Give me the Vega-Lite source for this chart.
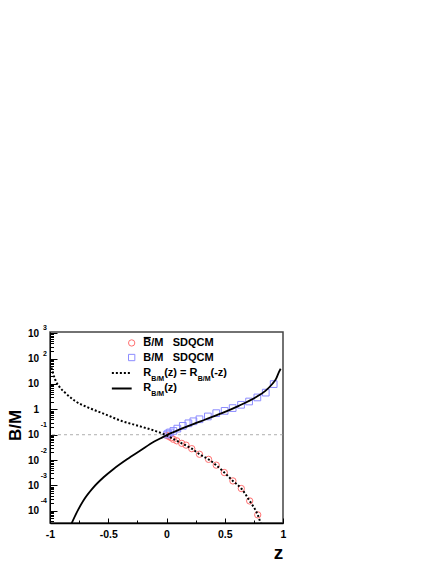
{
  "$schema": "https://vega.github.io/schema/vega-lite/v6.json",
  "width": 233,
  "height": 191,
  "autosize": {"type": "none"},
  "padding": {"left": 50, "top": 332, "right": 153, "bottom": 41},
  "background": "white",
  "datasets": {
    "solid": [
      {"z": -0.825, "v": 2.5e-5}, {"z": -0.77, "v": 8.71e-5}, {"z": -0.713, "v": 2.55e-4},
      {"z": -0.627, "v": 8.38e-4}, {"z": -0.54, "v": 0.0021}, {"z": -0.454, "v": 0.00447},
      {"z": -0.339, "v": 0.01072}, {"z": -0.224, "v": 0.0237}, {"z": -0.109, "v": 0.0525},
      {"z": -0.05, "v": 0.0724}, {"z": 0, "v": 0.0955}, {"z": 0.047, "v": 0.1202},
      {"z": 0.19, "v": 0.2239}, {"z": 0.333, "v": 0.398}, {"z": 0.476, "v": 0.7079},
      {"z": 0.62, "v": 1.38}, {"z": 0.763, "v": 2.951}, {"z": 0.849, "v": 5.37},
      {"z": 0.906, "v": 9.772}, {"z": 0.94, "v": 15.85}, {"z": 0.963, "v": 28.18},
      {"z": 0.98, "v": 39.81}
    ],
    "dashed": [
      {"z": -0.988, "v": 44.7}, {"z": -0.98, "v": 33.1}, {"z": -0.957, "v": 15.49},
      {"z": -0.914, "v": 7.244}, {"z": -0.871, "v": 4.571}, {"z": -0.785, "v": 2.138},
      {"z": -0.671, "v": 1.175}, {"z": -0.528, "v": 0.6457}, {"z": -0.384, "v": 0.3467},
      {"z": -0.241, "v": 0.2239}, {"z": -0.097, "v": 0.1413}, {"z": 0, "v": 0.0955},
      {"z": 0.06, "v": 0.0676}, {"z": 0.131, "v": 0.0457}, {"z": 0.217, "v": 0.0282},
      {"z": 0.283, "v": 0.017}, {"z": 0.361, "v": 0.01072}, {"z": 0.427, "v": 0.00631},
      {"z": 0.496, "v": 0.00324}, {"z": 0.57, "v": 0.00151}, {"z": 0.642, "v": 7.59e-4},
      {"z": 0.714, "v": 2.45e-4}, {"z": 0.783, "v": 6.92e-5}, {"z": 0.81, "v": 3.1e-5}
    ],
    "circles": [
      {"z": 0.005, "v": 0.093}, {"z": 0.02, "v": 0.085}, {"z": 0.04, "v": 0.076},
      {"z": 0.059, "v": 0.0661}, {"z": 0.088, "v": 0.0575}, {"z": 0.131, "v": 0.0457},
      {"z": 0.168, "v": 0.0389}, {"z": 0.217, "v": 0.0282}, {"z": 0.283, "v": 0.017},
      {"z": 0.361, "v": 0.0107}, {"z": 0.427, "v": 0.00631}, {"z": 0.496, "v": 0.00324},
      {"z": 0.57, "v": 0.00151}, {"z": 0.642, "v": 7.59e-4}, {"z": 0.714, "v": 2.45e-4},
      {"z": 0.783, "v": 6.92e-5}
    ],
    "squares": [
      {"z": 0.005, "v": 0.102}, {"z": 0.015, "v": 0.112}, {"z": 0.03, "v": 0.123},
      {"z": 0.059, "v": 0.141}, {"z": 0.093, "v": 0.174}, {"z": 0.14, "v": 0.224},
      {"z": 0.188, "v": 0.282}, {"z": 0.231, "v": 0.339}, {"z": 0.283, "v": 0.407},
      {"z": 0.355, "v": 0.525}, {"z": 0.427, "v": 0.708}, {"z": 0.499, "v": 0.871},
      {"z": 0.568, "v": 1.122}, {"z": 0.64, "v": 1.514}, {"z": 0.709, "v": 2.042},
      {"z": 0.78, "v": 2.951}, {"z": 0.852, "v": 4.571}, {"z": 0.92, "v": 9.9}
    ],
    "legendSymbols": [
      {"z": -0.299, "v": 415, "kind": "circle"},
      {"z": -0.299, "v": 110.7, "kind": "square"}
    ],
    "legendLines": [
      {"z": -0.469, "v": 27.2, "kind": "dashed"}, {"z": -0.299, "v": 27.2, "kind": "dashed"},
      {"z": -0.469, "v": 6.7, "kind": "solid"}, {"z": -0.299, "v": 6.7, "kind": "solid"}
    ],
    "legendBar": [
      {"z": -0.196, "z2": -0.134, "v": 680}
    ],
    "legendText": [
      {"z": -0.199, "v": 415, "t": "B/M\u00a0\u00a0\u00a0SDQCM"},
      {"z": -0.199, "v": 110.7, "t": "B/M\u00a0\u00a0\u00a0SDQCM"},
      {"z": -0.199, "v": 27.2, "t": "R"},
      {"z": -0.02, "v": 27.2, "t": "(z) = R"},
      {"z": 0.378, "v": 27.2, "t": "(-z)"},
      {"z": -0.199, "v": 6.7, "t": "R"},
      {"z": -0.02, "v": 6.7, "t": "(z)"}
    ],
    "legendSub": [
      {"z": -0.13, "v": 27.2, "t": "B/M"},
      {"z": 0.268, "v": 27.2, "t": "B/M"},
      {"z": -0.13, "v": 6.7, "t": "B/M"}
    ]
  },
  "layer": [
    {
      "data": {"values": [{}]},
      "mark": {"type": "rule", "color": "#999999", "strokeDash": [3, 3], "strokeWidth": 0.8},
      "encoding": {
        "y": {"datum": 0.1, "type": "quantitative", "scale": {"type": "log", "domain": [3.31e-5, 1122]}, "axis": null}
      }
    },
    {
      "data": {"name": "circles"},
      "mark": {"type": "point", "shape": "circle", "filled": false, "stroke": "#ff7070", "strokeWidth": 1, "size": 40, "opacity": 1, "clip": true},
      "encoding": {
        "x": {
          "field": "z", "type": "quantitative",
          "scale": {"domain": [-1, 1], "nice": false, "zero": false},
          "axis": {
            "orient": "bottom", "values": [-1, -0.5, 0, 0.5, 1], "ticks": false,
            "domain": true, "domainColor": "black", "domainWidth": 1.5,
            "labelExpr": "datum.value < 0 ? '-' + format(-datum.value, '') : format(datum.value, '')",
            "labelFontSize": 10.5, "labelFontWeight": "bold", "labelPadding": 6.5,
            "labelFlush": false, "labelOverlap": false,
            "title": "z", "titleFontSize": 19, "titleFontWeight": "bold",
            "titleX": 228, "titleY": 29, "titleAlign": "center", "titleBaseline": "middle"
          }
        },
        "y": {
          "field": "v", "type": "quantitative",
          "scale": {"type": "log", "domain": [3.31e-5, 1122]},
          "axis": {
            "orient": "left", "values": [0.0001, 0.001, 0.01, 0.1, 1, 10, 100, 1000],
            "ticks": false, "domain": true, "domainColor": "black", "domainWidth": 1,
            "labelExpr": "datum.value == 1 ? '1' : '10'",
            "labelFontSize": 10, "labelFontWeight": "bold", "labelPadding": 11.5,
            "labelFlush": false, "labelOverlap": false,
            "title": "B/M", "titleFontSize": 17, "titleFontWeight": "bold", "titleAngle": -90,
            "titleX": -35, "titleY": 93, "titleAlign": "center", "titleBaseline": "middle"
          }
        }
      }
    },
    {
      "data": {"name": "squares"},
      "mark": {"type": "point", "shape": "square", "filled": false, "stroke": "#8c8cff", "strokeWidth": 1, "size": 45, "opacity": 1, "clip": true},
      "encoding": {
        "x": {
          "field": "z", "type": "quantitative",
          "scale": {"domain": [-1, 1], "nice": false, "zero": false},
          "axis": {"orient": "bottom", "values": [-1, -0.5, 0, 0.5, 1], "labels": false, "domain": false, "tickSize": -5, "tickColor": "black", "title": null}
        },
        "y": {
          "field": "v", "type": "quantitative",
          "scale": {"type": "log", "domain": [3.31e-5, 1122]},
          "axis": {
            "orient": "left", "values": [0.0001, 0.001, 0.01, 0.1, 100, 1000],
            "ticks": false, "domain": false,
            "labelExpr": "datum.value == 1000 ? '3' : datum.value == 100 ? '2' : datum.value == 0.1 ? '-1' : datum.value == 0.01 ? '-2' : datum.value == 0.001 ? '-3' : '-4'",
            "labelFontSize": 7, "labelFontWeight": "bold", "labelPadding": 3.5,
            "labelOffset": {"condition": {"test": "datum.value < 1", "value": -10}, "value": -5.5},
            "labelFlush": false, "labelOverlap": false, "title": null
          }
        }
      }
    },
    {
      "data": {"name": "solid"},
      "mark": {"type": "line", "color": "black", "strokeWidth": 1.8, "interpolate": "monotone", "clip": true},
      "encoding": {
        "x": {
          "field": "z", "type": "quantitative",
          "scale": {"domain": [-1, 1], "nice": false, "zero": false},
          "axis": {"orient": "bottom", "values": [-0.75, -0.25, 0.25, 0.75], "labels": false, "domain": false, "tickSize": -3, "tickColor": "black", "title": null}
        },
        "y": {
          "field": "v", "type": "quantitative",
          "scale": {"type": "log", "domain": [3.31e-5, 1122]},
          "axis": {"orient": "left", "values": [0.0001, 0.001, 0.01, 0.1, 1, 10, 100, 1000], "labels": false, "domain": false, "tickSize": -7, "tickColor": "black", "title": null}
        }
      }
    },
    {
      "data": {"name": "dashed"},
      "mark": {"type": "line", "color": "black", "strokeWidth": 2, "strokeDash": [2, 2], "interpolate": "monotone", "clip": true},
      "encoding": {
        "x": {"field": "z", "type": "quantitative", "scale": {"domain": [-1, 1], "nice": false, "zero": false}, "axis": null},
        "y": {
          "field": "v", "type": "quantitative",
          "scale": {"type": "log", "domain": [3.31e-5, 1122]},
          "axis": {
            "orient": "left",
            "values": [4e-5, 5e-5, 6e-5, 7e-5, 8e-5, 9e-5, 0.0002, 0.0003, 0.0004, 0.0005, 0.0006, 0.0007, 0.0008, 0.0009, 0.002, 0.003, 0.004, 0.005, 0.006, 0.007, 0.008, 0.009, 0.02, 0.03, 0.04, 0.05, 0.06, 0.07, 0.08, 0.09, 0.2, 0.3, 0.4, 0.5, 0.6, 0.7, 0.8, 0.9, 2, 3, 4, 5, 6, 7, 8, 9, 20, 30, 40, 50, 60, 70, 80, 90, 200, 300, 400, 500, 600, 700, 800, 900],
            "labels": false, "domain": false, "tickSize": -3.5, "tickColor": "black", "title": null
          }
        }
      }
    },
    {
      "data": {"name": "legendSymbols"},
      "mark": {"type": "point", "filled": false, "strokeWidth": 1, "size": 40, "opacity": 1},
      "encoding": {
        "x": {"field": "z", "type": "quantitative", "scale": {"domain": [-1, 1], "nice": false, "zero": false}, "axis": null},
        "y": {"field": "v", "type": "quantitative", "scale": {"type": "log", "domain": [3.31e-5, 1122]}, "axis": null},
        "shape": {"field": "kind", "type": "nominal", "scale": {"domain": ["circle", "square"], "range": ["circle", "square"]}, "legend": null},
        "stroke": {"field": "kind", "type": "nominal", "scale": {"domain": ["circle", "square"], "range": ["#ff7070", "#8c8cff"]}, "legend": null}
      }
    },
    {
      "data": {"name": "legendLines"},
      "mark": {"type": "line", "color": "black", "strokeWidth": 2},
      "encoding": {
        "x": {"field": "z", "type": "quantitative", "scale": {"domain": [-1, 1], "nice": false, "zero": false}, "axis": null},
        "y": {"field": "v", "type": "quantitative", "scale": {"type": "log", "domain": [3.31e-5, 1122]}, "axis": null},
        "strokeDash": {"field": "kind", "type": "nominal", "scale": {"domain": ["dashed", "solid"], "range": [[2, 2], [1, 0]]}, "legend": null},
        "detail": {"field": "kind", "type": "nominal"}
      }
    },
    {
      "data": {"name": "legendBar"},
      "mark": {"type": "rule", "color": "black", "strokeWidth": 1.2},
      "encoding": {
        "x": {"field": "z", "type": "quantitative", "scale": {"domain": [-1, 1], "nice": false, "zero": false}, "axis": null},
        "x2": {"field": "z2"},
        "y": {"field": "v", "type": "quantitative", "scale": {"type": "log", "domain": [3.31e-5, 1122]}, "axis": null}
      }
    },
    {
      "data": {"name": "legendText"},
      "mark": {"type": "text", "align": "left", "baseline": "middle", "font": "Liberation Sans", "fontWeight": "bold", "fontSize": 11, "color": "black"},
      "encoding": {
        "x": {"field": "z", "type": "quantitative", "scale": {"domain": [-1, 1], "nice": false, "zero": false}, "axis": null},
        "y": {"field": "v", "type": "quantitative", "scale": {"type": "log", "domain": [3.31e-5, 1122]}, "axis": null},
        "text": {"field": "t", "type": "nominal"}
      }
    },
    {
      "data": {"name": "legendSub"},
      "mark": {"type": "text", "align": "left", "baseline": "middle", "font": "Liberation Sans", "fontWeight": "bold", "fontSize": 7, "dy": 6, "color": "black"},
      "encoding": {
        "x": {"field": "z", "type": "quantitative", "scale": {"domain": [-1, 1], "nice": false, "zero": false}, "axis": null},
        "y": {"field": "v", "type": "quantitative", "scale": {"type": "log", "domain": [3.31e-5, 1122]}, "axis": null},
        "text": {"field": "t", "type": "nominal"}
      }
    }
  ],
  "resolve": {"axis": {"x": "independent", "y": "independent"}},
  "config": {
    "view": {"stroke": "#444444", "strokeWidth": 1.5},
    "font": "Liberation Sans",
    "axis": {
      "grid": false,
      "labelFont": "Liberation Sans",
      "titleFont": "Liberation Sans",
      "labelColor": "black",
      "titleColor": "black",
      "tickColor": "black",
      "domainColor": "black"
    }
  }
}
